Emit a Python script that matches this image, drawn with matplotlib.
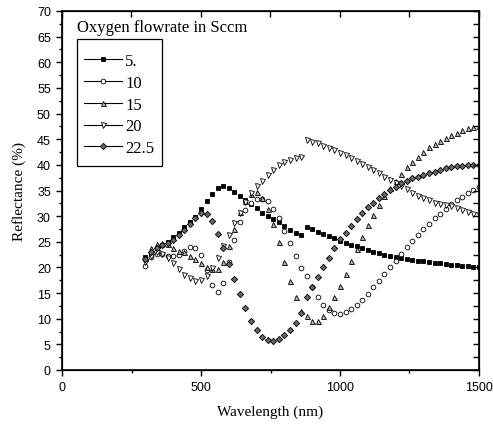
import matplotlib
matplotlib.use("Agg")
import matplotlib.pyplot as plt
from matplotlib.lines import Line2D
from matplotlib.patches import Rectangle
from matplotlib.ticker import MultipleLocator

# wavelength grid of the measurements (nm)
wavelength = list(range(300, 1520, 20))

# reflectance (%) for each oxygen flowrate (sccm)
r_5 = [22.0, 22.9, 23.8, 24.4, 25.0, 25.9, 26.8, 27.8, 28.8, 29.9,
       31.4, 33.0, 34.4, 35.4, 35.9, 35.5, 34.7, 34.0, 33.1, 32.4,
       31.5, 30.7, 30.1, 29.4, 28.8, 28.0, 27.3, 26.8, 26.3, 27.9,
       27.5, 27.0, 26.5, 26.1, 25.7, 25.2, 24.8, 24.4, 24.1, 23.8,
       23.4, 23.1, 22.8, 22.5, 22.3, 22.1, 21.9, 21.7, 21.5, 21.3,
       21.2, 21.0, 20.9, 20.8, 20.6, 20.5, 20.4, 20.3, 20.2, 20.1,
       20.0]
r_10 = [20.3, 22.0, 22.6, 22.6, 22.3, 22.2, 22.4, 23.2, 23.9, 23.8,
        22.4, 19.5, 16.5, 15.2, 17.0, 21.0, 25.3, 28.9, 31.2, 32.6,
        33.4, 33.3, 32.9, 31.4, 29.6, 27.2, 24.7, 22.3, 19.8, 18.4,
        16.2, 14.2, 12.7, 11.7, 11.1, 11.0, 11.3, 11.9, 12.7, 13.7,
        14.8, 16.1, 17.3, 18.7, 20.0, 21.3, 22.6, 23.9, 25.2, 26.3,
        27.5, 28.5, 29.6, 30.5, 31.4, 32.4, 33.1, 33.8, 34.5, 35.1,
        35.6]
r_15 = [21.8, 23.7, 24.5, 24.8, 24.5, 23.8, 23.3, 23.0, 22.2, 21.6,
        20.8, 20.0, 19.7, 19.6, 21.0, 24.1, 27.5, 30.8, 33.0, 34.3,
        34.8, 33.5, 31.4, 28.5, 25.0, 21.0, 17.4, 14.3, 11.6, 10.6,
        9.5, 9.5, 10.6, 12.3, 14.2, 16.4, 18.7, 21.2, 23.6, 26.0,
        28.2, 30.2, 32.1, 33.9, 35.5, 36.9, 38.3, 39.5, 40.6, 41.6,
        42.5, 43.4, 44.1, 44.7, 45.3, 45.8, 46.3, 46.7, 47.1, 47.4,
        47.6]
r_20 = [21.1, 22.3, 23.0, 22.6, 21.9, 20.8, 19.6, 18.5, 17.9, 17.4,
        17.6, 18.4, 19.8, 21.9, 24.1, 26.3, 28.6, 30.7, 32.7, 34.6,
        35.8, 36.9, 38.0, 39.0, 39.9, 40.6, 41.0, 41.3, 41.6, 44.9,
        44.5, 44.2, 43.7, 43.3, 42.9, 42.4, 41.9, 41.3, 40.8, 40.2,
        39.6, 39.0, 38.4, 37.7, 37.1, 36.4, 35.8, 35.3, 34.6, 34.0,
        33.5, 33.1, 32.6, 32.3, 32.1, 31.9, 31.5, 31.2, 30.9, 30.5,
        30.2]
r_22 = [21.6, 23.0, 23.8, 24.3, 24.8, 25.4, 26.3, 27.3, 28.4, 29.6,
        30.6, 30.4, 29.0, 26.5, 23.7, 20.7, 17.7, 14.8, 12.0, 9.6,
        7.8, 6.5, 5.8, 5.7, 6.0, 6.8, 7.8, 9.2, 11.2, 14.3,
        16.2, 18.2, 20.0, 21.8, 23.7, 25.5, 26.8, 28.1, 29.4, 30.7,
        31.7, 32.6, 33.5, 34.3, 35.1, 35.7, 36.4, 36.9, 37.4, 37.7,
        38.1, 38.4, 38.7, 39.0, 39.3, 39.5, 39.7, 39.8, 40.0, 40.0,
        40.0]

labels = ["5.", "10", "15", "20", "22.5"]
series = [r_5, r_10, r_15, r_20, r_22]
styles = [
    dict(marker="s", mfc="black", mec="black", ms=3.0),
    dict(marker="o", mfc="white", mec="black", ms=3.4),
    dict(marker="^", mfc="0.7", mec="black", ms=3.6),
    dict(marker="v", mfc="white", mec="black", ms=3.6),
    dict(marker="D", mfc="0.4", mec="black", ms=3.2),
]

serif = "Liberation Serif"
sans = "Liberation Sans"

fig = plt.figure(figsize=(4.93, 4.27), dpi=100)
ax = fig.add_axes([62/493, 1-371/427, 417/493, 359/427])

for y, st in zip(series, styles):
    ax.plot(wavelength, y, linestyle="none", mew=0.6, **st)

ax.set_xlim(0, 1500)
ax.set_ylim(0, 70)
ax.xaxis.set_major_locator(MultipleLocator(500))
ax.xaxis.set_minor_locator(MultipleLocator(250))
ax.yaxis.set_major_locator(MultipleLocator(5))
ax.yaxis.set_minor_locator(MultipleLocator(2.5))
ax.tick_params(which="both", direction="out", width=1, labelsize=9)
ax.tick_params(which="major", length=4.5)
ax.tick_params(which="minor", length=2.5)
for lab in ax.get_xticklabels() + ax.get_yticklabels():
    lab.set_fontfamily(sans)
for sp in ax.spines.values():
    sp.set_linewidth(1.2)

# top and right axes with inward ticks
axt = ax.twiny()
axt.set_xlim(0, 1500)
axt.xaxis.set_major_locator(MultipleLocator(250))
axt.tick_params(direction="in", length=4, width=1, labeltop=False)
axr = ax.twinx()
axr.set_ylim(0, 70)
axr.yaxis.set_major_locator(MultipleLocator(2.5))
axr.tick_params(direction="in", length=4, width=1, labelright=False)

ax.set_xlabel("Wavelength (nm)", fontfamily=serif, fontsize=11, labelpad=8)
ax.set_ylabel("Reflectance (%)", fontfamily=serif, fontsize=11, labelpad=8)

# legend box drawn by hand, entries without frame
box = Rectangle((0.036, 0.568), 0.204, 0.354, transform=ax.transAxes,
                facecolor="white", edgecolor="black", lw=0.9, zorder=4)
ax.add_patch(box)
handles = [Line2D([0], [0], color="black", lw=0.8, mew=0.6, **st) for st in styles]
leg = ax.legend(handles, labels, loc="upper left", bbox_to_anchor=(0.036, 0.902),
                borderaxespad=0, frameon=False,
                prop={"family": serif, "size": 12}, handlelength=2.3,
                handletextpad=0.2, labelspacing=0.35, borderpad=0.4, numpoints=1)
leg.set_zorder(5)
ax.text(0.036, 0.955, "Oxygen flowrate in Sccm", transform=ax.transAxes,
        fontfamily=serif, fontsize=12, va="center", ha="left")

fig.savefig("out.png", dpi=100)
